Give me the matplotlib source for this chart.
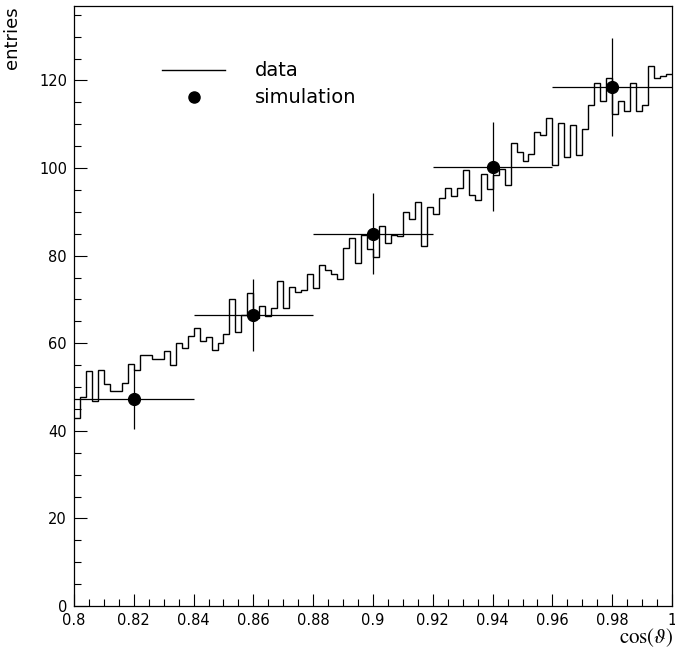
import numpy as np
import matplotlib
matplotlib.use("Agg")
import matplotlib.pyplot as plt
from matplotlib.ticker import MultipleLocator

# ── data histogram: 100 bins of 0.002 from 0.8 to 1.0 ───────
bin_edges = np.linspace(0.8, 1.0, 101)
data_counts = [
    43.0, 47.8, 53.7, 46.7, 53.8, 50.7, 49.0, 49.1, 51.0, 55.2,
    53.9, 57.2, 57.2, 56.4, 56.3, 58.2, 55.1, 60.0, 58.9, 61.7,
    63.5, 60.4, 61.4, 58.5, 60.0, 62.2, 70.1, 62.6, 66.5, 71.5,
    65.7, 68.6, 66.3, 68.0, 74.1, 68.0, 72.8, 71.6, 72.1, 75.7,
    72.5, 77.8, 76.8, 75.7, 74.7, 81.8, 84.0, 78.3, 84.6, 81.4,
    79.6, 86.7, 82.9, 84.8, 84.4, 90.0, 88.4, 92.3, 82.1, 91.1,
    89.4, 93.2, 95.5, 93.6, 95.5, 99.5, 93.9, 92.6, 98.7, 95.1,
    98.4, 99.7, 96.2, 105.8, 103.6, 101.7, 103.1, 108.2, 107.5, 111.5,
    100.8, 110.2, 102.6, 109.9, 102.9, 108.8, 114.4, 119.5, 115.4, 120.6,
    112.4, 115.4, 113.1, 119.5, 113.1, 114.4, 123.3, 120.6, 121.0, 121.4,
]

# ── simulation points ─────────────────────────────────────
sim_x = [0.82, 0.86, 0.90, 0.94, 0.98]
sim_y = [47.2, 66.5, 85.0, 100.3, 118.5]
sim_xerr = [0.02, 0.02, 0.02, 0.02, 0.02]
sim_yerr = [6.8, 8.2, 9.3, 10.1, 11.2]

plt.rcParams["mathtext.fontset"] = "stix"

fig = plt.figure(figsize=(6.75, 6.56), dpi=100)
ax = fig.add_axes([0.1096, 0.0762, 0.886, 0.9147])

ax.stairs(data_counts, bin_edges, color="black", lw=1.0, baseline=None,
          label="data")
ax.errorbar(sim_x, sim_y, xerr=sim_xerr, yerr=sim_yerr, fmt="o",
            color="black", ms=8.5, elinewidth=0.9, capsize=0,
            label="simulation")

ax.set_xlim(0.8, 1.0)
ax.set_ylim(0, 137)
ax.xaxis.set_minor_locator(MultipleLocator(0.005))
ax.yaxis.set_major_locator(MultipleLocator(20))
ax.yaxis.set_minor_locator(MultipleLocator(5))
ax.set_xticks(np.arange(0.8, 1.0001, 0.02))
ax.set_xticklabels(["0.8", "0.82", "0.84", "0.86", "0.88", "0.9", "0.92",
                    "0.94", "0.96", "0.98", "1"])
ax.tick_params(which="both", direction="in", top=False, right=False,
               labelsize=10.5, width=0.8)
ax.tick_params(which="major", length=9, pad=5)
ax.tick_params(which="minor", length=5)
for s in ax.spines.values():
    s.set_linewidth(0.9)

# axis titles placed like the original
fig.text(0.018, 0.99, "entries", rotation=90, ha="center", va="top",
         fontsize=13)
fig.text(0.997, 0.028, r"$\mathrm{cos}(\vartheta)$", ha="right",
         va="center", fontsize=15)

# legend drawn by hand in axes coordinates
ax.plot([0.148, 0.252], [0.893, 0.893], transform=ax.transAxes,
        color="black", lw=1.0)
ax.plot([0.2], [0.848], "o", transform=ax.transAxes, color="black", ms=8)
ax.text(0.303, 0.893, "data", transform=ax.transAxes, va="center",
        fontsize=14)
ax.text(0.303, 0.848, "simulation", transform=ax.transAxes, va="center",
        fontsize=14)

fig.savefig("out.png", dpi=100)
